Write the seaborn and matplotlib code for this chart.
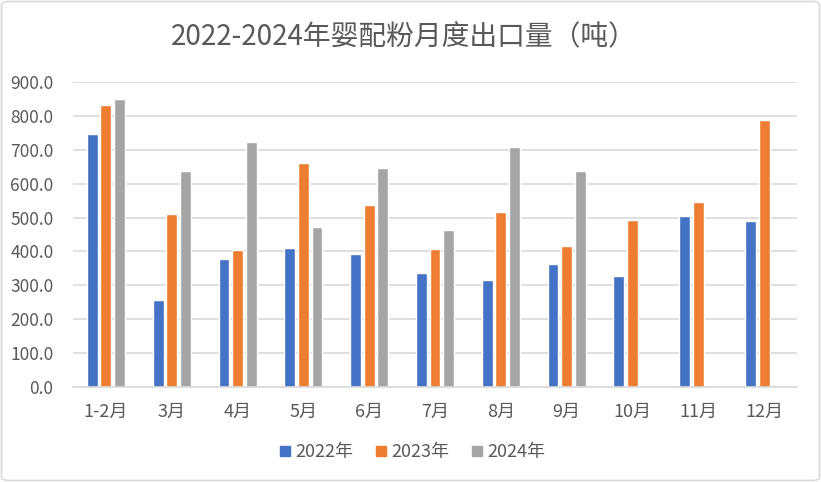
import matplotlib
matplotlib.use("Agg")
import matplotlib.pyplot as plt
import seaborn as sns
import pandas as pd
import numpy as np
from matplotlib.patches import FancyBboxPatch
from matplotlib.lines import Line2D

months = ["1-2月", "3月", "4月", "5月", "6月", "7月", "8月", "9月", "10月", "11月", "12月"]
v2022 = [746, 258, 378, 411, 393, 337, 317, 364, 328, 505, 490]
v2023 = [831, 511, 405, 661, 537, 408, 517, 417, 493, 546, 787]
v2024 = [849, 637, 723, 473, 646, 464, 708, 637, np.nan, np.nan, np.nan]
series = ["2022年", "2023年", "2024年"]
colors = ["#4472C4", "#ED7D31", "#A5A5A5"]

rows = []
for s, vals in zip(series, [v2022, v2023, v2024]):
    for m, v in zip(months, vals):
        rows.append({"month": m, "series": s, "value": v})
df = pd.DataFrame(rows)

sns.set_theme(style="white")
plt.rcParams['font.family'] = ['Noto Sans CJK SC', 'DejaVu Sans']

fig = plt.figure(figsize=(8.21, 4.82), dpi=100)
ax = fig.add_axes([73/821, 1-387.3/482, (797-73)/821, (387.3-81.7)/482])

sns.barplot(data=df, x="month", y="value", hue="series", order=months,
            hue_order=series, palette=colors, width=0.62, gap=0.2,
            saturation=1, ax=ax, legend=True, errorbar=None)

ax.set_ylim(0, 900)
ax.set_yticks(np.arange(0, 901, 100))
ax.set_yticklabels([f"{v:.1f}" for v in np.arange(0, 901, 100)])
ax.set_xlim(-0.5, len(months)-0.5)
ax.yaxis.grid(True, color="#D9D9D9", linewidth=1.2)
ax.set_axisbelow(True)
for sp in ["top", "right", "left"]:
    ax.spines[sp].set_visible(False)
ax.spines["bottom"].set_color("#D9D9D9")
ax.spines["bottom"].set_linewidth(1.2)
ax.tick_params(axis="y", length=0, labelsize=12.5, colors="#595959", pad=14)
ax.tick_params(axis="x", length=0, labelsize=13, colors="#595959", pad=11)
ax.set_xlabel("")
ax.set_ylabel("")

fig.text(0.492, 1-37/482, "2022-2024年婴配粉月度出口量（吨）", ha="center", va="center",
         fontsize=20, color="#595959")

ax.legend_.remove()
hs = [Line2D([], [], marker="s", linestyle="", markersize=7, color=c) for c in colors]
fig.legend(hs, series, loc="center", bbox_to_anchor=(0.5, 1-452/482), ncol=3,
           frameon=False, fontsize=13, labelcolor="#595959", handletextpad=0.1,
           columnspacing=1.0, handlelength=1.0)

border = FancyBboxPatch((1.5/821, 1.5/482), 1-3/821, 1-3/482, boxstyle="round,pad=0,rounding_size=0.008",
                        transform=fig.transFigure, fill=False, edgecolor="#D9D9D9", linewidth=1.2)
fig.patches.append(border)

fig.savefig("out.png", dpi=100)
